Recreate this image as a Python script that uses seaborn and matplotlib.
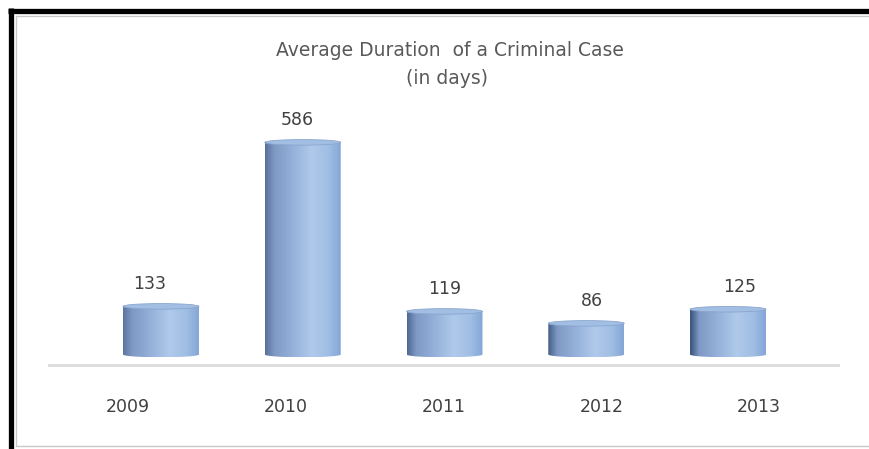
import numpy as np
import pandas as pd
import matplotlib
matplotlib.use("Agg")
import matplotlib.pyplot as plt
import seaborn as sns
from matplotlib.patches import Ellipse, PathPatch
from matplotlib.path import Path
from matplotlib.lines import Line2D

# ---- data ----
years = ["2009", "2010", "2011", "2012", "2013"]
durations = [133, 586, 119, 86, 125]
title_line1 = "Average Duration  of a Criminal Case"
title_line2 = "(in days)"

sns.set_theme(style="white")
plt.rcParams["font.family"] = ["DejaVu Sans"]

W, H = 869, 449
fig = plt.figure(figsize=(W / 100, H / 100), dpi=100)
fig.patch.set_facecolor("white")

def fx(px):
    return px / W

def fy(py):
    return 1 - py / H

# ---- frames ----
fig.add_artist(Line2D([fx(8), fx(869)], [fy(10.5), fy(10.5)], color="black", lw=3.8, solid_capstyle="butt"))
fig.add_artist(Line2D([fx(10.5), fx(10.5)], [fy(8), fy(449)], color="black", lw=3.8, solid_capstyle="butt"))
fig.add_artist(Line2D([fx(16), fx(869)], [fy(16), fy(16)], color="#c8c8c8", lw=1.0))
fig.add_artist(Line2D([fx(16), fx(16)], [fy(16), fy(446)], color="#c8c8c8", lw=1.0))
fig.add_artist(Line2D([fx(16), fx(869)], [fy(446), fy(446)], color="#c8c8c8", lw=1.0))

# ---- floor axis with category labels ----
ax2 = fig.add_axes([fx(49), fy(365), fx(838 - 49), 0.01])
ax2.set_xlim(-0.5, 4.5)
ax2.set_ylim(0, 1)
ax2.set_xticks(range(len(years)))
ax2.set_xticklabels(years, fontsize=12.5, color="#404040")
ax2.set_yticks([])
for s in ["top", "left", "right"]:
    ax2.spines[s].set_visible(False)
ax2.spines["bottom"].set_color("#dcdcdc")
ax2.spines["bottom"].set_linewidth(2.0)
ax2.tick_params(axis="x", length=0, pad=24)
ax2.patch.set_alpha(0)

# ---- bars ----
px_per_unit = 0.362
y_min, y_max = -20, 700
ax_bottom_px = 354.5 - y_min * px_per_unit  # pixel row of y_min
ax_h_px = (y_max - y_min) * px_per_unit
ax = fig.add_axes([fx(90.1), fy(ax_bottom_px), fx(798.9 - 90.1), ax_h_px / H])
df = pd.DataFrame({"year": years, "days": durations})
sns.barplot(data=df, x="year", y="days", width=0.536, color="#7fa3d4", ax=ax)
ax.set_xlim(-0.5, 4.5)
ax.set_ylim(y_min, y_max)
ax.axis("off")
ax.patch.set_alpha(0)

semi_px = 2.8
semi = semi_px / px_per_unit

def gradient(dark):
    stops_x = [0.0, 0.12, 0.35, 0.62, 0.85, 1.0]
    cols = np.array([
        [0.38 - dark, 0.48 - dark, 0.64 - dark],
        [0.49, 0.60, 0.77],
        [0.58, 0.69, 0.85],
        [0.69, 0.79, 0.92],
        [0.62, 0.74, 0.89],
        [0.52, 0.65, 0.84],
    ])
    xs = np.linspace(0, 1, 200)
    img = np.stack([np.interp(xs, stops_x, cols[:, k]) for k in range(3)], axis=-1)
    return np.clip(img[np.newaxis, :, :], 0, 1)

darkness = [0.02, 0.04, 0.07, 0.11, 0.16]
for i, p in enumerate(ax.patches):
    x0, w, h = p.get_x(), p.get_width(), p.get_height()
    cx = x0 + w / 2
    p.set_facecolor("none")
    p.set_edgecolor("none")
    t = np.linspace(np.pi, 2 * np.pi, 40)
    arc = np.column_stack([cx + (w / 2) * np.cos(t), semi * np.sin(t)])
    verts = np.vstack([[x0, h], arc, [x0 + w, h], [x0, h]])
    clip = PathPatch(Path(verts), transform=ax.transData, facecolor="none", edgecolor="none")
    ax.add_patch(clip)
    im = ax.imshow(gradient(darkness[i]), extent=[x0, x0 + w, -semi, h],
                   aspect="auto", zorder=2, interpolation="bilinear")
    im.set_clip_path(clip)
    top = Ellipse((cx, h), w, 2 * semi, facecolor="#a3bee3", edgecolor="#8aa6cf",
                  lw=0.6, zorder=3)
    ax.add_patch(top)
    ax.annotate(str(durations[i]), xy=(i + (i - 2) * 0.04, h), xytext=(0, 16),
                textcoords="offset points", ha="center", va="center",
                fontsize=12.5, color="#404040", zorder=4)

ax.set_xlim(-0.5, 4.5)
ax.set_ylim(y_min, y_max)

# ---- title ----
fig.text(fx(450), fy(50), title_line1, ha="center", va="center", fontsize=13.5,
         color="#595959")
fig.text(fx(447), fy(79), title_line2, ha="center", va="center", fontsize=13.5,
         color="#595959")

fig.savefig("out.png", dpi=100, facecolor="white")
